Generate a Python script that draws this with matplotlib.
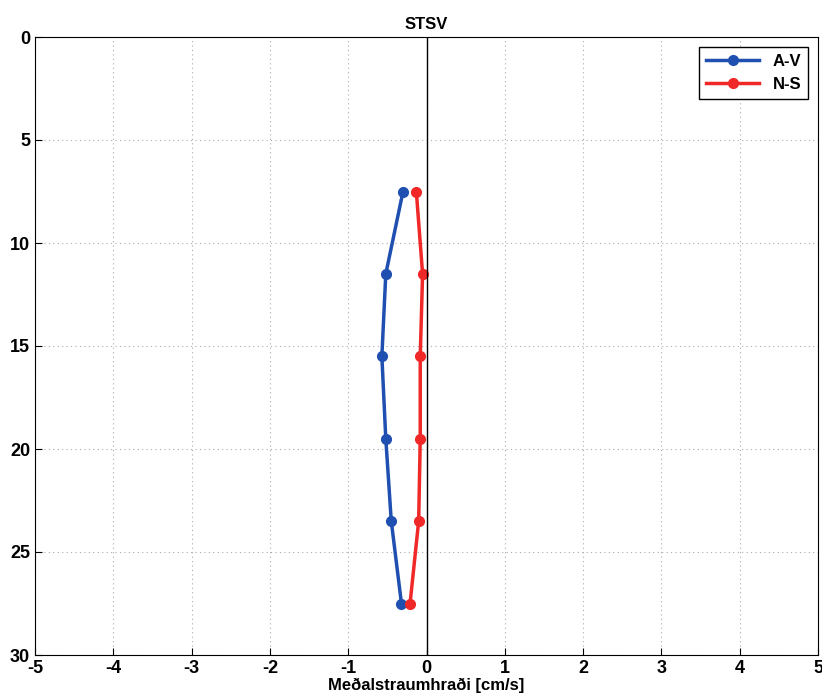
import matplotlib.pyplot as plt

# dýpi og meðalstraumhraði
dypi = [7.5, 11.5, 15.5, 19.5, 23.5, 27.5]
av = [-0.30, -0.52, -0.57, -0.52, -0.45, -0.32]
ns = [-0.13, -0.05, -0.08, -0.08, -0.10, -0.21]

plt.rcParams['font.family'] = ['Liberation Sans', 'DejaVu Sans']
plt.rcParams['axes.unicode_minus'] = False

fig = plt.figure(figsize=(8.22, 6.99), dpi=100)
ax = fig.add_axes([35 / 822, 1 - 655 / 699, 783 / 822, 618 / 699])

ax.plot(av, dypi, '-o', color='#1f4fb0', lw=2.5, ms=7, label='A-V')
ax.plot(ns, dypi, '-o', color='#f02828', lw=2.5, ms=7, label='N-S')
ax.axvline(0, color='black', lw=1)

ax.set_xlim(-5, 5)
ax.set_ylim(30, 0)
ax.set_xticks(range(-5, 6))
ax.set_yticks(range(0, 31, 5))
ax.grid(True, linestyle=(0, (1, 3)), color='#aaaaaa', lw=0.8)
ax.tick_params(direction='in', labelsize=13, length=5)
for lbl in ax.get_xticklabels() + ax.get_yticklabels():
    lbl.set_fontweight('bold')

ax.set_title('STSV', fontsize=12, fontweight='bold', pad=6)
ax.set_xlabel('Meðalstraumhraði [cm/s]', fontsize=12, fontweight='bold', labelpad=1)

leg = ax.legend(loc='upper right', prop={'weight': 'bold', 'size': 12},
                fancybox=False, edgecolor='black', handlelength=3.2,
                borderaxespad=0.6, framealpha=1)
leg.get_frame().set_linewidth(1)

fig.savefig('out.png', dpi=100)
